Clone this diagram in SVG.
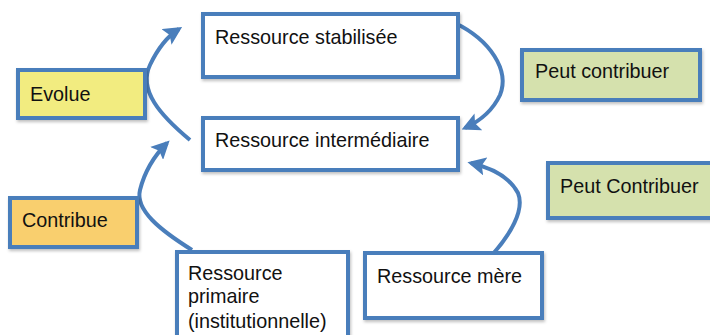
<svg xmlns="http://www.w3.org/2000/svg" width="710" height="335" viewBox="0 0 710 335">
<defs>
<filter id="sh" x="-10%" y="-10%" width="130%" height="140%"><feDropShadow dx="1" dy="2" stdDeviation="1.5" flood-color="#000" flood-opacity="0.25"/></filter>
<marker id="ah" viewBox="0 0 10 10" refX="8" refY="5" markerWidth="4.6" markerHeight="4.6" orient="auto" markerUnits="strokeWidth"><path d="M0,0 L10,5 L0,10 L2,5 Z" fill="#4a7ebb"/></marker>
<style>
.b{stroke:#4a7ebb;stroke-width:4;filter:url(#sh)}
.w{fill:#fff}.y{fill:#f2ec80}.g{fill:#d5e1ad}.o{fill:#f9cf6e}
text{font-family:"Liberation Sans",Arial,sans-serif;font-size:19.8px;fill:#111}
.c{fill:none;stroke:#4a7ebb;stroke-width:4;marker-end:url(#ah)}
</style>
</defs>
<g id="connectors">
<path class="c" d="M190,140 C160,115 138,90 150,65 C158,48 168,36 179,29"/>
<path class="c" d="M455,23 C490,40 510,70 500,95 C492,112 478,122 465,128"/>
<path class="c" d="M192,250 C160,230 135,210 140,190 C145,170 155,155 167,143"/>
<path class="c" d="M492,255 C510,235 525,210 518,193 C510,178 492,168 471,163"/>
</g>
<g id="stabilisee"><rect class="b w" x="203" y="14" width="255" height="63"/><text x="215" y="44">Ressource stabilisée</text></g>
<g id="intermediaire"><rect class="b w" x="203" y="118" width="255" height="52"/><text x="215" y="147">Ressource intermédiaire</text></g>
<g id="evolue"><rect class="b y" x="18" y="70" width="127" height="48"/><text x="30" y="101">Evolue</text></g>
<g id="peut-contribuer"><rect class="b g" x="522" y="50" width="178" height="50"/><text x="535" y="78">Peut contribuer</text></g>
<g id="peut-contribuer-2"><rect class="b g" x="548" y="163" width="166" height="55"/><text x="560" y="193">Peut Contribuer</text></g>
<g id="contribue"><rect class="b o" x="10" y="198" width="127" height="49"/><text x="22" y="227">Contribue</text></g>
<g id="primaire"><rect class="b w" x="177" y="252" width="171" height="95"/><text x="188" y="280">Ressource</text><text x="188" y="303">primaire</text><text x="188" y="328">(institutionnelle)</text></g>
<g id="mere"><rect class="b w" x="365" y="253" width="177" height="65"/><text x="377" y="283">Ressource mère</text></g>
</svg>
